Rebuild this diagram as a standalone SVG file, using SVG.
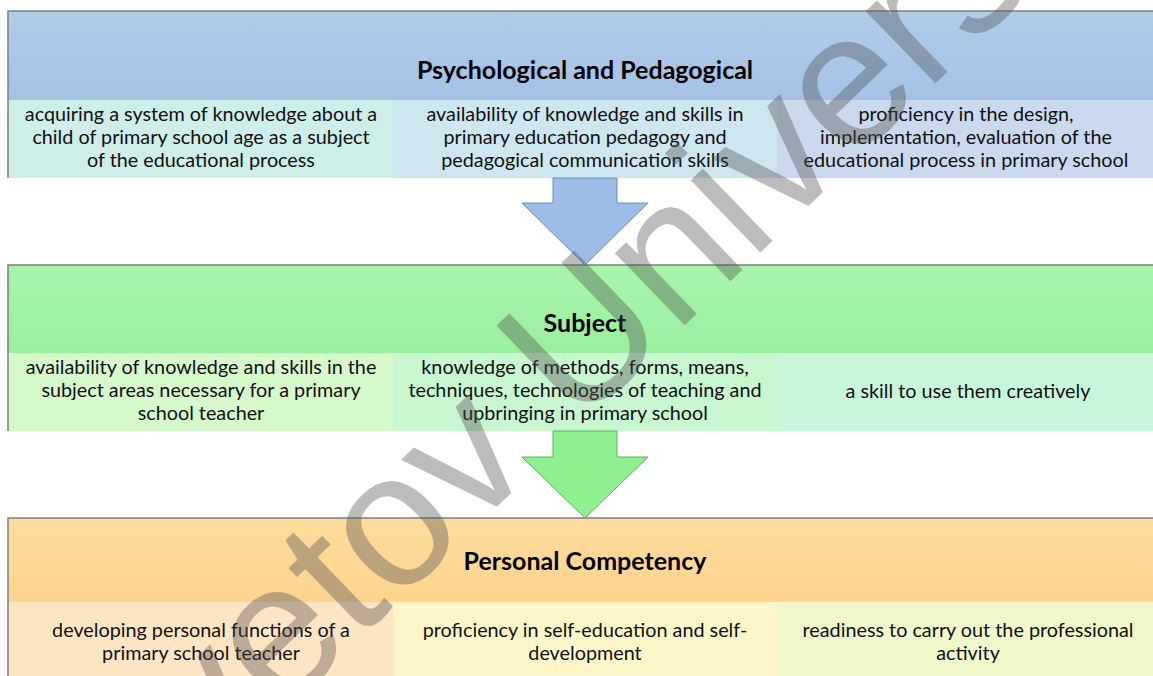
<svg xmlns="http://www.w3.org/2000/svg" width="1153" height="676" viewBox="0 0 1153 676">
<defs>
<linearGradient id="gBlue" x1="0" y1="0" x2="0" y2="1"><stop offset="0" stop-color="#b1cbe9"/><stop offset="1" stop-color="#a5c2e6"/></linearGradient>
<linearGradient id="gGreen" x1="0" y1="0" x2="0" y2="1"><stop offset="0" stop-color="#a7f5ab"/><stop offset="1" stop-color="#9aef9e"/></linearGradient>
<linearGradient id="gOrange" x1="0" y1="0" x2="0" y2="1"><stop offset="0" stop-color="#fedc9d"/><stop offset="1" stop-color="#fdd48e"/></linearGradient>
<style>
.hd{font-family:Lato,"Open Sans","Liberation Sans",sans-serif;font-weight:bold;font-size:25px;fill:#000;text-anchor:middle}
.tx{font-family:Lato,"Open Sans","Liberation Sans",sans-serif;font-size:19.8px;fill:#111;text-anchor:middle}
.edge{stroke:#7f7f7f;stroke-width:1.5;fill:none}
.wm{font-family:"Liberation Sans",Arial,sans-serif;font-size:190px;fill:#505050;fill-opacity:0.38}
</style>
</defs>

<g id="band-psych">
<rect x="8" y="11" width="1145" height="89" fill="url(#gBlue)"/>
<rect x="8" y="100" width="385" height="78" fill="#cdeee9"/>
<rect x="393" y="100" width="384" height="78" fill="#cde6ef"/>
<rect x="777" y="100" width="376" height="78" fill="#cad9ee"/>
<path class="edge" d="M8,178 V11 H1153"/>
<text class="hd" x="585" y="79">Psychological and Pedagogical</text>
<text class="tx" x="201" y="121">acquiring a system of knowledge about a</text>
<text class="tx" x="201" y="144">child of primary school age as a subject</text>
<text class="tx" x="201" y="167">of the educational process</text>
<text class="tx" x="585" y="121">availability of knowledge and skills in</text>
<text class="tx" x="585" y="144">primary education pedagogy and</text>
<text class="tx" x="585" y="167">pedagogical communication skills</text>
<text class="tx" x="966" y="121">proficiency in the design,</text>
<text class="tx" x="966" y="144">implementation, evaluation of the</text>
<text class="tx" x="966" y="167">educational process in primary school</text>
</g>

<g id="band-subject">
<rect x="8" y="265" width="1145" height="88" fill="url(#gGreen)"/>
<rect x="8" y="353" width="385" height="78" fill="#d6f9cb"/>
<rect x="393" y="353" width="384" height="78" fill="#c8f6cf"/>
<rect x="777" y="353" width="376" height="78" fill="#c8f6da"/>
<path class="edge" d="M8,431 V265 H1153"/>
<text class="hd" x="585" y="332">Subject</text>
<text class="tx" x="201" y="374">availability of knowledge and skills in the</text>
<text class="tx" x="201" y="397">subject areas necessary for a primary</text>
<text class="tx" x="201" y="420">school teacher</text>
<text class="tx" x="585" y="374">knowledge of methods, forms, means,</text>
<text class="tx" x="585" y="397">techniques, technologies of teaching and</text>
<text class="tx" x="585" y="420">upbringing in primary school</text>
<text class="tx" x="968" y="398">a skill to use them creatively</text>
</g>

<g id="band-personal">
<rect x="8" y="518" width="1145" height="84" fill="url(#gOrange)"/>
<rect x="8" y="602" width="385" height="74" fill="#fde4c3"/>
<rect x="393" y="602" width="384" height="74" fill="#fef6c8"/>
<rect x="777" y="602" width="376" height="74" fill="#eff7cb"/>
<path class="edge" d="M8,676 V518 H1153"/>
<text class="hd" x="585" y="570">Personal Competency</text>
<text class="tx" x="201" y="637">developing personal functions of a</text>
<text class="tx" x="201" y="660">primary school teacher</text>
<text class="tx" x="585" y="637">proficiency in self-education and self-</text>
<text class="tx" x="585" y="660">development</text>
<text class="tx" x="968" y="637">readiness to carry out the professional</text>
<text class="tx" x="968" y="660">activity</text>
</g>

<g id="connectors">
<polygon points="553,178 617,178 617,203 648,203 585,265 522,203 553,203" fill="#9dbde6" stroke="#6d8fc0" stroke-width="1"/>
<polygon points="553,431 617,431 617,457 648,457 585,518 522,457 553,457" fill="#8ef08f" stroke="#5cb060" stroke-width="1"/>
</g>

<text class="wm" transform="translate(212,782) rotate(-44)">vetov Univers</text>
</svg>
